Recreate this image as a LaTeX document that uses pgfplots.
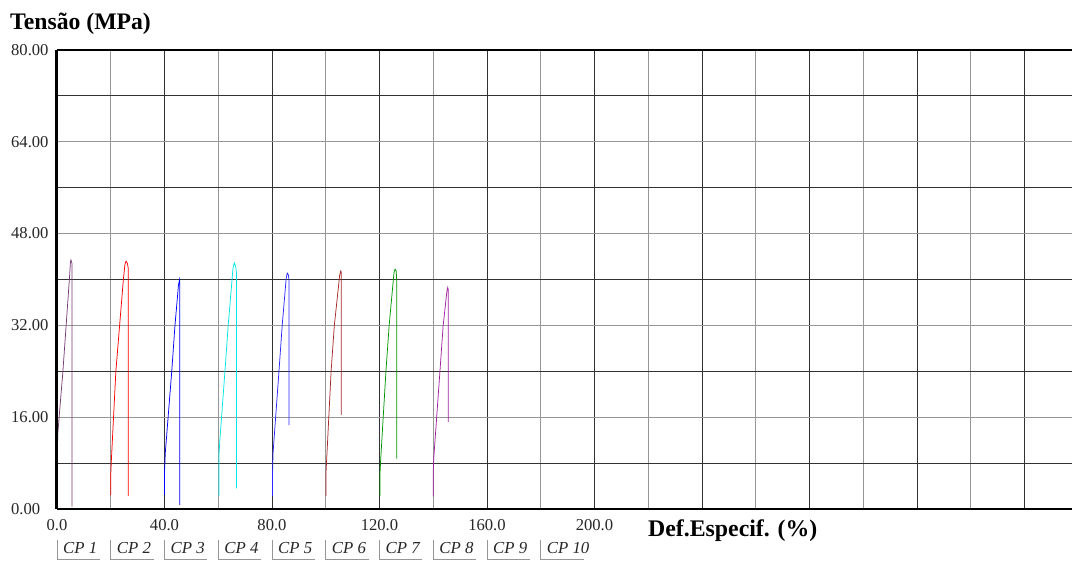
\documentclass[border=0pt]{standalone}
\usepackage{fontspec}
\setmainfont{Liberation Serif}
\usepackage{pgfplots}
\pgfplotsset{compat=1.18}
\definecolor{cA}{RGB}{120,60,120}
\definecolor{cB}{RGB}{255,0,0}
\definecolor{cC}{RGB}{0,0,255}
\definecolor{cD}{RGB}{0,230,230}
\definecolor{cE}{RGB}{40,40,255}
\definecolor{cF}{RGB}{165,42,42}
\definecolor{cG}{RGB}{0,150,0}
\definecolor{cH}{RGB}{160,32,160}
\definecolor{gdark}{RGB}{50,50,50}
\definecolor{glight}{RGB}{150,150,150}
\newcommand{\cplab}[2]{%
  \draw[glight, line width=0.8pt] ([yshift=-31pt]axis cs:#1,0) -- ([yshift=-50pt]axis cs:#1,0) -- ([xshift=43pt,yshift=-50pt]axis cs:#1,0);
  \node[anchor=base west, inner sep=0pt, text=black!85, font=\itshape\fontsize{16.8}{18}\selectfont] at ([xshift=6pt,yshift=-45pt]axis cs:#1,0) {CP #2};
}
\begin{document}
\begin{tikzpicture}[x=1pt,y=1pt]
\useasboundingbox (-57,-52) rectangle (1015,509);
\begin{axis}[
  at={(0,0)}, anchor=south west,
  scale only axis, width=1015pt, height=459pt,
  xmin=0, xmax=377.7, ymin=0, ymax=80,
  clip=false,
  axis line style={draw=none},
  major tick length=0pt, minor tick length=0pt,
  xtick={0,40,...,360},
  xticklabels={0.0,40.0,80.0,120.0,160.0,200.0,,,,,},
  minor xtick={20,60,...,340},
  ytick={0,16,...,80},
  yticklabels={0.00,16.00,32.00,48.00,64.00,80.00},
  minor ytick={8,24,...,72},
  grid=both,
  every major x grid/.style={draw=gdark, line width=0.8pt},
  every minor x grid/.style={draw=glight, line width=1.3pt},
  every major y grid/.style={draw=glight, line width=1.3pt},
  every minor y grid/.style={draw=gdark, line width=0.8pt},
  tick label style={font=\fontsize{16.6}{18}\selectfont, inner sep=0pt, text=black!85},
  xticklabel style={anchor=north, yshift=-10pt},
  yticklabel style={anchor=west, xshift=-46pt},
  every axis plot/.append style={line width=0.75pt, mark=none},
]
\addplot[cA] coordinates {(0,2.4)(0.1,9.1)(0.3,13.2)(2.2,24)(4.6,40)(5.0,43)(5.2,43.4)(5.5,43.0)(5.6,42.5)(5.6,0.4)};
\addplot[cB] coordinates {(20,2.4)(20,5.9)(20.2,8.2)(21.9,24)(24.7,40)(25.3,42.7)(25.7,43.2)(26.2,42.8)(26.5,42)(26.5,2.3)};
\addplot[cC] coordinates {(40,2.4)(40,6.3)(40.3,9.8)(42.7,24)(43.9,32)(45.2,39)(45.6,40.0)(45.7,39.5)(45.7,0.7)};
\addplot[cD] coordinates {(60.3,2.3)(60.3,9.6)(60.6,12)(62.5,24)(63.7,32)(65.5,42)(66.0,42.9)(66.5,42.3)(66.8,41)(66.8,3.6)};
\addplot[cE] coordinates {(80.2,2.2)(80.2,6.3)(80.4,9.8)(82.6,24)(83.8,32)(85.3,40.3)(85.7,41.1)(86.1,40.8)(86.3,40)(86.3,14.6)};
\addplot[cF] coordinates {(100.1,2.3)(100.1,6.3)(100.3,8.2)(102.0,24)(103.2,32)(105.2,40.8)(105.6,41.5)(105.8,41.2)(105.8,16.4)};
\addplot[cG] coordinates {(120.2,2.3)(120.2,6.3)(120.4,8.2)(122.4,24)(123.6,32)(125.4,41.2)(125.8,41.8)(126.2,41.5)(126.4,40)(126.4,8.8)};
\addplot[cH] coordinates {(140.0,2.2)(140.0,6.3)(140.2,8.9)(142.5,24)(143.7,32)(145.1,38.0)(145.4,38.6)(145.6,38.2)(145.6,15.2)};
% frame
\draw[black, line width=2.8pt] (rel axis cs:0,1) -- (rel axis cs:1,1);
\draw[black, line width=2.8pt] (rel axis cs:0,0) -- (rel axis cs:1,0);
\draw[black, line width=3pt] (rel axis cs:0,0) -- (rel axis cs:0,1);
% CP labels
\cplab{0}{1}
\cplab{20}{2}
\cplab{40}{3}
\cplab{60}{4}
\cplab{80}{5}
\cplab{100}{6}
\cplab{120}{7}
\cplab{140}{8}
\cplab{160}{9}
\cplab{180}{10}
\end{axis}
\node[anchor=base west, inner sep=0pt, font=\bfseries\fontsize{23.7}{26}\selectfont] at (-47,479) {Tensão (MPa)};
\node[anchor=base west, inner sep=0pt, font=\bfseries\fontsize{23.8}{26}\selectfont] at (591,-28) {Def.Especif. (\%)};
\end{tikzpicture}
\end{document}
